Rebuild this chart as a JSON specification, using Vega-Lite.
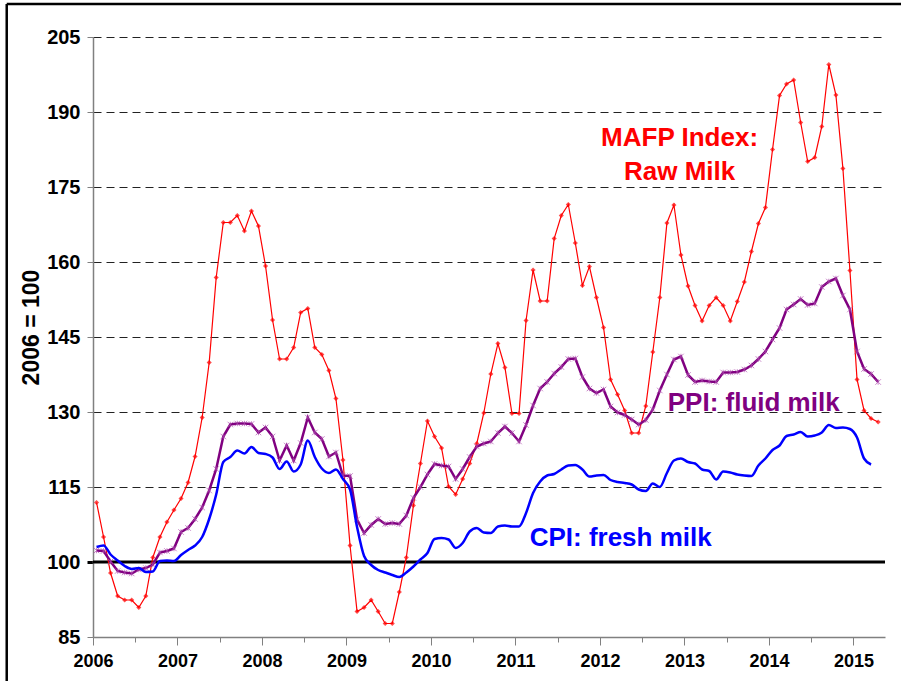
{
  "$schema": "https://vega.github.io/schema/vega-lite/v6.json",
  "width": 792,
  "height": 600,
  "autosize": {"type": "none"},
  "padding": {"left": 93, "top": 37, "right": 16, "bottom": 44},
  "background": "white",
  "config": {"view": {"stroke": null}, "font": "Liberation Sans"},
  "datasets": {
    "milk": [
      {"t":2006.042,"r":111.9,"p":102.3,"c":103.0},
      {"t":2006.125,"r":105.0,"p":102.2,"c":103.3},
      {"t":2006.208,"r":97.8,"p":100.1,"c":101.5},
      {"t":2006.292,"r":93.2,"p":98.2,"c":100.3},
      {"t":2006.375,"r":92.4,"p":97.9,"c":99.2},
      {"t":2006.458,"r":92.4,"p":97.7,"c":98.6},
      {"t":2006.542,"r":90.9,"p":98.5,"c":98.8},
      {"t":2006.625,"r":93.2,"p":98.8,"c":98.0},
      {"t":2006.708,"r":100.9,"p":99.5,"c":98.1},
      {"t":2006.792,"r":105.0,"p":101.9,"c":100.2},
      {"t":2006.875,"r":108.0,"p":102.2,"c":100.3},
      {"t":2006.958,"r":110.4,"p":102.7,"c":100.2},
      {"t":2007.042,"r":112.7,"p":106.0,"c":101.4},
      {"t":2007.125,"r":115.9,"p":106.8,"c":102.4},
      {"t":2007.208,"r":121.1,"p":108.6,"c":103.3},
      {"t":2007.292,"r":128.9,"p":110.9,"c":105.0},
      {"t":2007.375,"r":139.9,"p":114.3,"c":108.6},
      {"t":2007.458,"r":156.9,"p":118.6,"c":113.5},
      {"t":2007.542,"r":167.9,"p":125.1,"c":120.0},
      {"t":2007.625,"r":167.9,"p":127.5,"c":121.0},
      {"t":2007.708,"r":169.3,"p":127.7,"c":122.3},
      {"t":2007.792,"r":166.2,"p":127.7,"c":121.7},
      {"t":2007.875,"r":170.2,"p":127.6,"c":123.0},
      {"t":2007.958,"r":167.2,"p":125.9,"c":121.8},
      {"t":2008.042,"r":159.2,"p":126.9,"c":121.6},
      {"t":2008.125,"r":148.4,"p":125.1,"c":120.9},
      {"t":2008.208,"r":140.6,"p":120.3,"c":118.6},
      {"t":2008.292,"r":140.6,"p":123.3,"c":120.1},
      {"t":2008.375,"r":142.9,"p":120.3,"c":118.1},
      {"t":2008.458,"r":149.9,"p":123.8,"c":119.5},
      {"t":2008.542,"r":150.7,"p":128.9,"c":124.3},
      {"t":2008.625,"r":142.9,"p":125.9,"c":121.0},
      {"t":2008.708,"r":141.5,"p":124.6,"c":118.7},
      {"t":2008.792,"r":138.3,"p":121.1,"c":117.8},
      {"t":2008.875,"r":132.7,"p":121.9,"c":118.5},
      {"t":2008.958,"r":120.4,"p":117.3,"c":116.6},
      {"t":2009.042,"r":103.3,"p":117.2,"c":114.5},
      {"t":2009.125,"r":90.1,"p":108.5,"c":107.0},
      {"t":2009.208,"r":90.9,"p":105.8,"c":101.2},
      {"t":2009.292,"r":92.4,"p":107.4,"c":99.4},
      {"t":2009.375,"r":90.1,"p":108.6,"c":98.4},
      {"t":2009.458,"r":87.7,"p":107.6,"c":97.9},
      {"t":2009.542,"r":87.7,"p":107.8,"c":97.4},
      {"t":2009.625,"r":94.0,"p":107.6,"c":97.0},
      {"t":2009.708,"r":100.9,"p":109.3,"c":97.9},
      {"t":2009.792,"r":111.3,"p":112.8,"c":99.1},
      {"t":2009.875,"r":119.7,"p":115.0,"c":100.5},
      {"t":2009.958,"r":128.2,"p":117.5,"c":101.8},
      {"t":2010.042,"r":125.1,"p":119.6,"c":104.6},
      {"t":2010.125,"r":122.8,"p":119.3,"c":104.8},
      {"t":2010.208,"r":115.1,"p":119.1,"c":104.5},
      {"t":2010.292,"r":113.5,"p":116.6,"c":102.8},
      {"t":2010.375,"r":116.6,"p":118.6,"c":103.8},
      {"t":2010.458,"r":119.7,"p":121.0,"c":106.1},
      {"t":2010.542,"r":123.7,"p":123.1,"c":106.8},
      {"t":2010.625,"r":129.8,"p":123.7,"c":105.9},
      {"t":2010.708,"r":137.6,"p":124.1,"c":105.8},
      {"t":2010.792,"r":143.7,"p":125.8,"c":107.1},
      {"t":2010.875,"r":138.9,"p":127.1,"c":107.3},
      {"t":2010.958,"r":129.7,"p":125.8,"c":107.1},
      {"t":2011.042,"r":129.7,"p":124.1,"c":107.1},
      {"t":2011.125,"r":148.3,"p":127.4,"c":109.8},
      {"t":2011.208,"r":158.4,"p":131.3,"c":113.8},
      {"t":2011.292,"r":152.2,"p":134.7,"c":116.1},
      {"t":2011.375,"r":152.2,"p":136.0,"c":117.3},
      {"t":2011.458,"r":164.7,"p":137.7,"c":117.6},
      {"t":2011.542,"r":169.3,"p":139.0,"c":118.5},
      {"t":2011.625,"r":171.5,"p":140.6,"c":119.3},
      {"t":2011.708,"r":163.8,"p":140.7,"c":119.4},
      {"t":2011.792,"r":155.3,"p":137.0,"c":118.5},
      {"t":2011.875,"r":159.1,"p":134.7,"c":117.1},
      {"t":2011.958,"r":152.9,"p":133.8,"c":117.3},
      {"t":2012.042,"r":146.9,"p":134.5,"c":117.4},
      {"t":2012.125,"r":136.5,"p":131.1,"c":116.4},
      {"t":2012.208,"r":133.5,"p":129.9,"c":116.0},
      {"t":2012.292,"r":130.3,"p":129.4,"c":115.8},
      {"t":2012.375,"r":125.8,"p":128.5,"c":115.5},
      {"t":2012.458,"r":125.8,"p":127.5,"c":114.5},
      {"t":2012.542,"r":131.2,"p":128.4,"c":114.2},
      {"t":2012.625,"r":142.0,"p":130.5,"c":115.7},
      {"t":2012.708,"r":152.9,"p":134.3,"c":115.0},
      {"t":2012.792,"r":167.8,"p":137.5,"c":117.8},
      {"t":2012.875,"r":171.4,"p":140.5,"c":120.3},
      {"t":2012.958,"r":161.4,"p":141.1,"c":120.7},
      {"t":2013.042,"r":155.2,"p":137.4,"c":120.0},
      {"t":2013.125,"r":151.3,"p":136.0,"c":119.7},
      {"t":2013.208,"r":148.2,"p":136.3,"c":118.5},
      {"t":2013.292,"r":151.3,"p":136.1,"c":118.2},
      {"t":2013.375,"r":152.9,"p":136.0,"c":116.5},
      {"t":2013.458,"r":151.3,"p":137.9,"c":118.1},
      {"t":2013.542,"r":148.2,"p":137.9,"c":117.9},
      {"t":2013.625,"r":152.1,"p":138.0,"c":117.5},
      {"t":2013.708,"r":156.0,"p":138.5,"c":117.3},
      {"t":2013.792,"r":162.1,"p":139.3,"c":117.2},
      {"t":2013.875,"r":167.7,"p":140.6,"c":119.3},
      {"t":2013.958,"r":170.9,"p":142.1,"c":120.7},
      {"t":2014.042,"r":182.5,"p":144.5,"c":122.4},
      {"t":2014.125,"r":193.3,"p":146.8,"c":123.3},
      {"t":2014.208,"r":195.6,"p":150.5,"c":125.2},
      {"t":2014.292,"r":196.4,"p":151.5,"c":125.5},
      {"t":2014.375,"r":187.9,"p":152.6,"c":126.0},
      {"t":2014.458,"r":180.1,"p":151.4,"c":125.1},
      {"t":2014.542,"r":180.9,"p":151.7,"c":125.3},
      {"t":2014.625,"r":187.1,"p":155.0,"c":125.9},
      {"t":2014.708,"r":199.5,"p":156.1,"c":127.4},
      {"t":2014.792,"r":193.4,"p":156.7,"c":126.8},
      {"t":2014.875,"r":178.7,"p":153.3,"c":126.9},
      {"t":2014.958,"r":158.3,"p":150.5,"c":126.6},
      {"t":2015.042,"r":136.5,"p":142.1,"c":124.9},
      {"t":2015.125,"r":130.3,"p":138.6,"c":120.7},
      {"t":2015.208,"r":128.7,"p":137.6,"c":119.5},
      {"t":2015.292,"r":128.0,"p":136.0,"c":null}
    ],
    "labels": [
      {"t":2012.942,"value":183.3,"label":"MAFP Index:","series":"MAFP"},
      {"t":2012.942,"value":176.4,"label":"Raw Milk","series":"MAFP"},
      {"t":2013.819,"value":130.3,"label":"PPI: fluid milk","series":"PPI"},
      {"t":2012.245,"value":103.3,"label":"CPI: fresh milk","series":"CPI"}
    ],
    "base": [
      {"t":2006,"t2":2015.373,"value":100}
    ],
    "frame": [
      {"t":2004.979,"t2":2015.6,"value":211.6,"value2":70}
    ]
  },
  "encoding": {
    "x": {
      "field": "t", "type": "quantitative",
      "scale": {"domain": [2006, 2015.373], "nice": false, "zero": false},
      "axis": {
        "values": [2006, 2006.5, 2007, 2007.5, 2008, 2008.5, 2009, 2009.5, 2010, 2010.5, 2011, 2011.5, 2012, 2012.5, 2013, 2013.5, 2014, 2014.5, 2015],
        "labelExpr": "datum.value % 1 == 0 ? format(datum.value, 'd') : ''",
        "title": null,
        "labelFlush": false,
        "labelFontSize": 18, "labelFontWeight": "bold", "labelColor": "black", "labelPadding": 7,
        "tickSize": {"condition": {"test": "datum.value % 1 == 0", "value": 8}, "value": 5},
        "tickColor": "#808080",
        "domainColor": "#808080", "domainWidth": 1.5,
        "grid": false
      }
    },
    "y": {
      "field": "value", "type": "quantitative",
      "scale": {"domain": [85, 205], "nice": false, "zero": false},
      "axis": {
        "values": [85, 100, 115, 130, 145, 160, 175, 190, 205],
        "title": "2006 = 100",
        "titleFontSize": 23, "titleFontWeight": "bold", "titleColor": "black",
        "titleX": -50, "titleY": 290, "titleAlign": "center", "titleAngle": -90, "titleBaseline": "bottom",
        "labelFlush": false,
        "labelFontSize": 20, "labelFontWeight": "bold", "labelColor": "black", "labelPadding": 7,
        "tickSize": 6,
        "tickColor": {"condition": {"test": "datum.value == 100", "value": "black"}, "value": "#808080"},
        "tickWidth": {"condition": {"test": "datum.value == 100", "value": 3}, "value": 1},
        "domainColor": "#808080", "domainWidth": 1.5,
        "grid": true, "gridColor": "#222222", "gridDash": [8, 5], "gridWidth": 1,
        "gridOpacity": {"condition": {"test": "datum.value <= 100", "value": 0}, "value": 1}
      }
    }
  },
  "layer": [
    {
      "data": {"name": "frame"},
      "mark": {"type": "rule", "color": "black", "strokeWidth": 2.5},
      "encoding": {"x2": {"field": "t2"}}
    },
    {
      "data": {"name": "frame"},
      "mark": {"type": "rule", "color": "black", "strokeWidth": 2.5},
      "encoding": {"y2": {"field": "value2"}}
    },
    {
      "data": {"name": "base"},
      "mark": {"type": "rule", "color": "black", "strokeWidth": 3},
      "encoding": {"x2": {"field": "t2"}}
    },
    {
      "data": {"name": "milk"},
      "transform": [{"fold": ["r"], "as": ["series", "value"]}],
      "mark": {"type": "line", "color": "#ff0000", "strokeWidth": 1.2}
    },
    {
      "data": {"name": "milk"},
      "transform": [{"fold": ["r"], "as": ["series", "value"]}],
      "mark": {"type": "point", "shape": "diamond", "filled": true, "color": "#ff0000", "size": 26}
    },
    {
      "data": {"name": "milk"},
      "transform": [{"fold": ["p"], "as": ["series", "value"]}],
      "mark": {"type": "line", "color": "#800080", "strokeWidth": 2.5}
    },
    {
      "data": {"name": "milk"},
      "transform": [{"fold": ["p"], "as": ["series", "value"]}],
      "mark": {"type": "point", "shape": "M-1,-1L1,1M1,-1L-1,1M0,-1L0,1", "filled": false, "color": "#b050b0", "strokeWidth": 1, "size": 30}
    },
    {
      "data": {"name": "milk"},
      "transform": [{"fold": ["c"], "as": ["series", "value"]}],
      "mark": {"type": "line", "color": "#0000ff", "strokeWidth": 2.5, "interpolate": "monotone"}
    },
    {
      "data": {"name": "labels"},
      "mark": {"type": "text", "font": "Liberation Sans", "fontWeight": "bold", "fontSize": 26, "align": "center", "baseline": "alphabetic"},
      "encoding": {
        "text": {"field": "label"},
        "color": {
          "field": "series", "type": "nominal", "legend": null,
          "scale": {"domain": ["MAFP", "PPI", "CPI"], "range": ["#ff0000", "#800080", "#0000ff"]}
        }
      }
    }
  ]
}
